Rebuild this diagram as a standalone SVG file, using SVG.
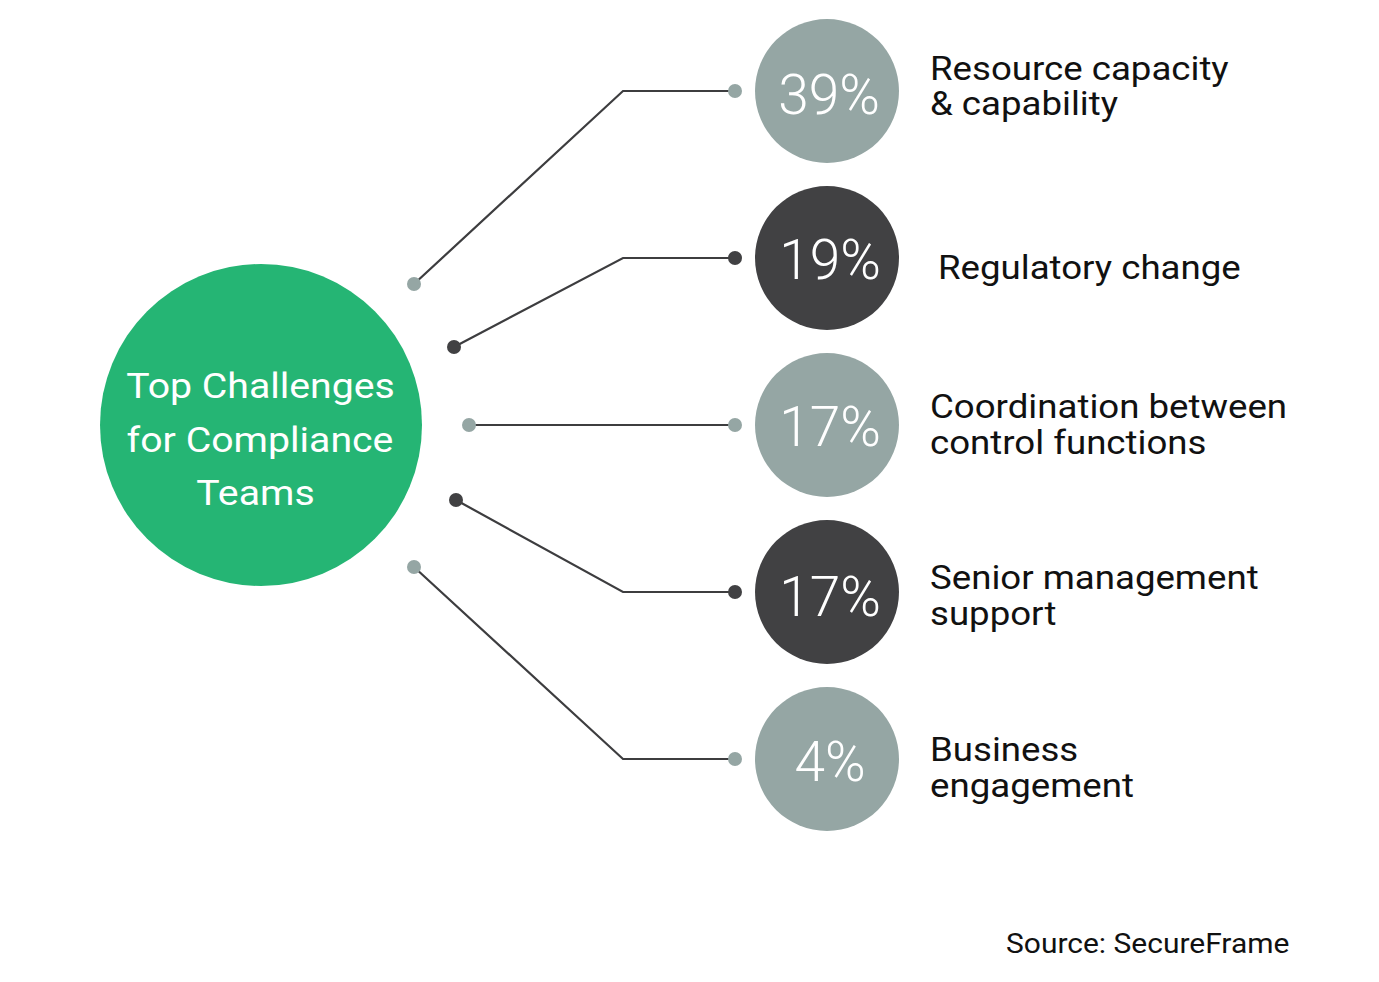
<svg xmlns="http://www.w3.org/2000/svg" width="1379" height="982" viewBox="0 0 1379 982">
<style>
.conn{fill:none;stroke:#3d3d3f;stroke-width:2.2;stroke-linejoin:miter}
.gray{fill:#95a6a4}
.dark{fill:#414143}
.pct{font-family:Roboto,"Liberation Sans",sans-serif;font-weight:300;font-size:55px;fill:#ffffff;text-anchor:middle}
.lbl{font-family:Roboto,"Liberation Sans",sans-serif;font-size:33px;fill:#111111}
.title{font-family:Roboto,"Liberation Sans",sans-serif;font-size:36px;fill:#ffffff;text-anchor:middle}
.src{font-family:Roboto,"Liberation Sans",sans-serif;font-size:27px;fill:#111111}
</style>
<rect width="1379" height="982" fill="#ffffff"/>
<g id="connectors">
<polyline class="conn" points="414,284 623,91 735,91"/>
<polyline class="conn" points="454,347 623,258 735,258"/>
<polyline class="conn" points="469,425 735,425"/>
<polyline class="conn" points="456,500 623,592 735,592"/>
<polyline class="conn" points="414,567 623,759 735,759"/>
<circle class="gray" cx="414" cy="284" r="7"/>
<circle class="gray" cx="735" cy="91" r="7"/>
<circle class="dark" cx="454" cy="347" r="7"/>
<circle class="dark" cx="735" cy="258" r="7"/>
<circle class="gray" cx="469" cy="425" r="7"/>
<circle class="gray" cx="735" cy="425" r="7"/>
<circle class="dark" cx="456" cy="500" r="7"/>
<circle class="dark" cx="735" cy="592" r="7"/>
<circle class="gray" cx="414" cy="567" r="7"/>
<circle class="gray" cx="735" cy="759" r="7"/>
</g>
<g id="center">
<circle cx="261" cy="425" r="161" fill="#25b574"/>
<text class="title" transform="translate(260.5 398) scale(1.09 1)">Top Challenges</text>
<text class="title" transform="translate(260 452) scale(1.09 1)">for Compliance</text>
<text class="title" transform="translate(255.5 505) scale(1.09 1)">Teams</text>
</g>
<g id="n1">
<circle class="gray" cx="827" cy="91" r="72"/>
<text class="pct" x="829" y="114">39%</text>
<text class="lbl" transform="translate(930 80) scale(1.11 1)">Resource capacity</text>
<text class="lbl" transform="translate(930 115) scale(1.11 1)">&amp; capability</text>
</g>
<g id="n2">
<circle class="dark" cx="827" cy="258" r="72"/>
<text class="pct" x="830" y="279">19%</text>
<text class="lbl" transform="translate(938 279) scale(1.11 1)">Regulatory change</text>
</g>
<g id="n3">
<circle class="gray" cx="827" cy="425" r="72"/>
<text class="pct" x="830" y="446">17%</text>
<text class="lbl" transform="translate(930 418) scale(1.11 1)">Coordination between</text>
<text class="lbl" transform="translate(930 454) scale(1.11 1)">control functions</text>
</g>
<g id="n4">
<circle class="dark" cx="827" cy="592" r="72"/>
<text class="pct" x="830" y="616">17%</text>
<text class="lbl" transform="translate(930 589) scale(1.11 1)">Senior management</text>
<text class="lbl" transform="translate(930 625) scale(1.11 1)">support</text>
</g>
<g id="n5">
<circle class="gray" cx="827" cy="759" r="72"/>
<text class="pct" x="830" y="781">4%</text>
<text class="lbl" transform="translate(930 761) scale(1.11 1)">Business</text>
<text class="lbl" transform="translate(930 797) scale(1.11 1)">engagement</text>
</g>
<text class="src" transform="translate(1006 953) scale(1.11 1)">Source: SecureFrame</text>
</svg>
